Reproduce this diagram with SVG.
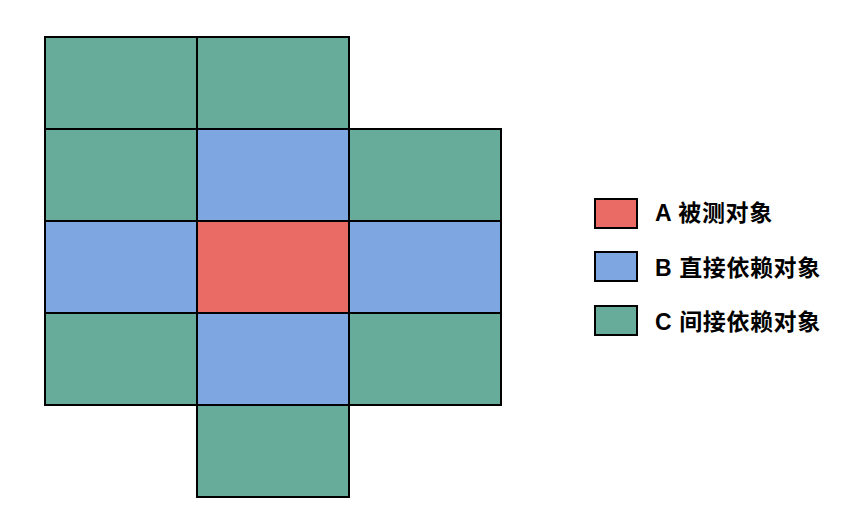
<svg xmlns="http://www.w3.org/2000/svg" width="850" height="514" viewBox="0 0 850 514">
<style>
rect{stroke:#000;stroke-width:2}
.g{fill:#67AB9A}.b{fill:#7EA6E0}.r{fill:#EA6B66}
text{font-family:"Liberation Sans","Noto Sans CJK SC",sans-serif;font-weight:bold;font-size:23px;letter-spacing:0.6px;fill:#000}
</style>
<rect width="850" height="514" fill="#fff" style="stroke:none"/>
<g id="grid">
<g id="r0c0"><rect class="g" x="45" y="37" width="152" height="92"/></g>
<g id="r0c1"><rect class="g" x="197" y="37" width="152" height="92"/></g>
<g id="r1c0"><rect class="g" x="45" y="129" width="152" height="92"/></g>
<g id="r1c1"><rect class="b" x="197" y="129" width="152" height="92"/></g>
<g id="r1c2"><rect class="g" x="349" y="129" width="152" height="92"/></g>
<g id="r2c0"><rect class="b" x="45" y="221" width="152" height="92"/></g>
<g id="r2c1"><rect class="r" x="197" y="221" width="152" height="92"/></g>
<g id="r2c2"><rect class="b" x="349" y="221" width="152" height="92"/></g>
<g id="r3c0"><rect class="g" x="45" y="313" width="152" height="92"/></g>
<g id="r3c1"><rect class="b" x="197" y="313" width="152" height="92"/></g>
<g id="r3c2"><rect class="g" x="349" y="313" width="152" height="92"/></g>
<g id="r4c1"><rect class="g" x="197" y="405" width="152" height="92"/></g>
</g>
<g id="legend">
<g id="legA"><rect class="r" x="595" y="199" width="42" height="29"/><text x="655" y="221">A 被测对象</text></g>
<g id="legB"><rect class="b" x="595" y="252" width="42" height="29"/><text x="655" y="276">B 直接依赖对象</text></g>
<g id="legC"><rect class="g" x="595" y="306" width="42" height="29"/><text x="655" y="330">C 间接依赖对象</text></g>
</g>
</svg>
